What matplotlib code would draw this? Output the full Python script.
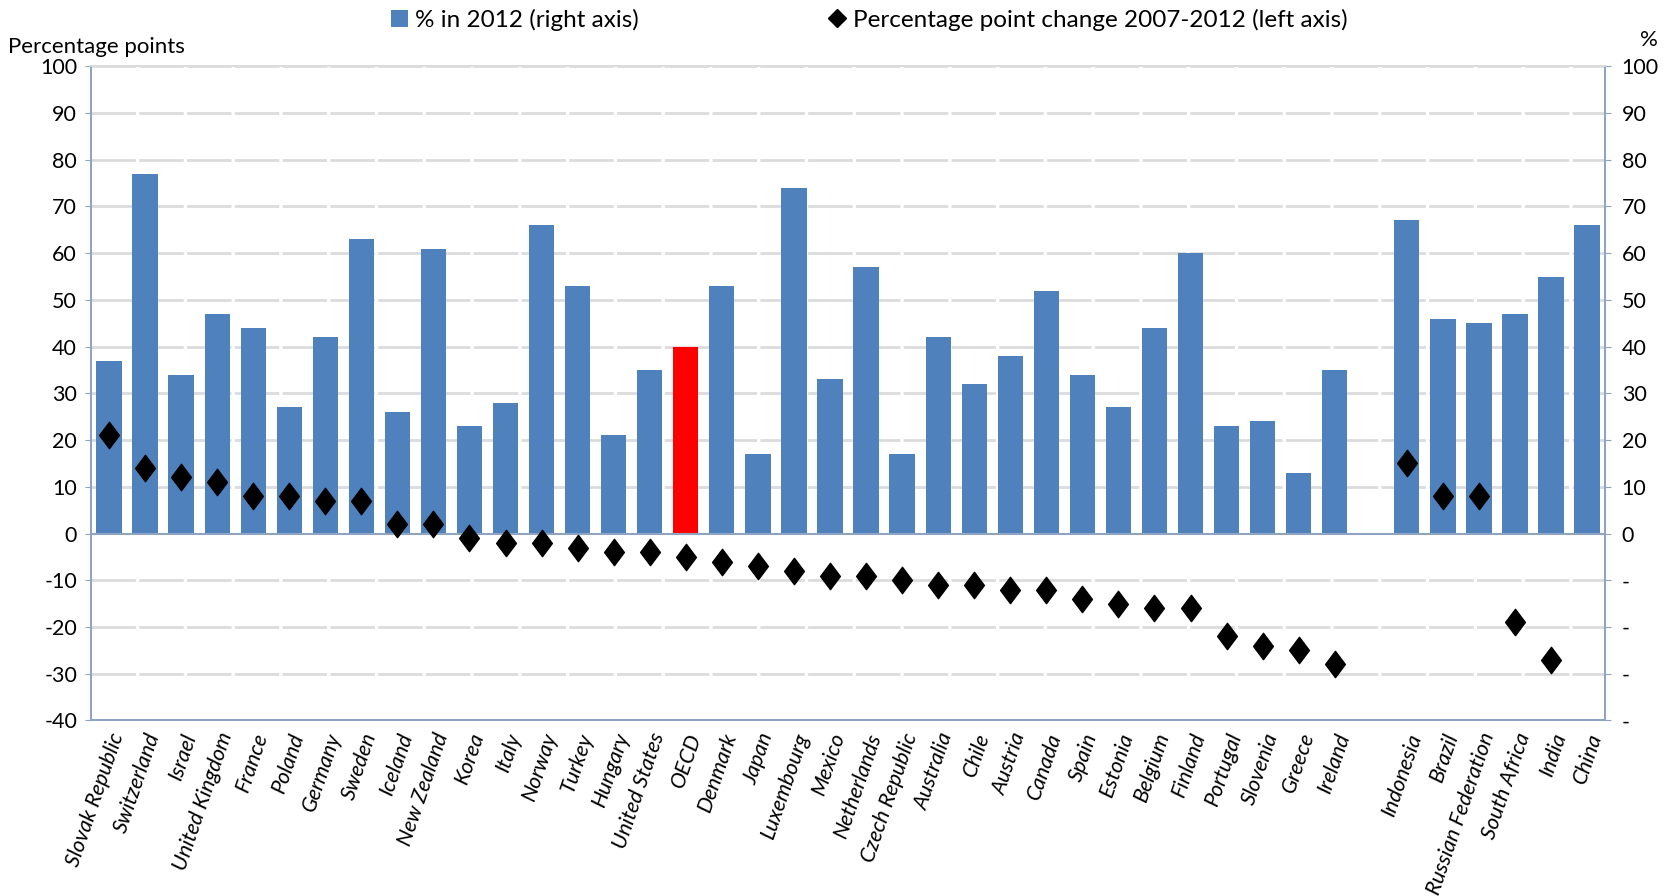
import numpy as np
import matplotlib
matplotlib.use("Agg")
from matplotlib import pyplot as plt
from matplotlib.path import Path
from matplotlib.lines import Line2D
from matplotlib.patches import Patch

plt.rcParams['font.family'] = ['Lato', 'DejaVu Sans']

# Data (empty slot = gap between OECD countries and partner economies)
countries = ["Slovak Republic", "Switzerland", "Israel", "United Kingdom", "France",
             "Poland", "Germany", "Sweden", "Iceland", "New Zealand", "Korea", "Italy",
             "Norway", "Turkey", "Hungary", "United States", "OECD", "Denmark", "Japan",
             "Luxembourg", "Mexico", "Netherlands", "Czech Republic", "Australia", "Chile",
             "Austria", "Canada", "Spain", "Estonia", "Belgium", "Finland", "Portugal",
             "Slovenia", "Greece", "Ireland", "",
             "Indonesia", "Brazil", "Russian Federation", "South Africa", "India", "China"]
pct_2012 = [37, 77, 34, 47, 44, 27, 42, 63, 26, 61, 23, 28, 66, 53, 21, 35, 40, 53, 17,
            74, 33, 57, 17, 42, 32, 38, 52, 34, 27, 44, 60, 23, 24, 13, 35, np.nan,
            67, 46, 45, 47, 55, 66]
change_07_12 = [21, 14, 12, 11, 8, 8, 7, 7, 2, 2, -1, -2, -2, -3, -4, -4, -5, -6, -7,
                -8, -9, -9, -10, -11, -11, -12, -12, -14, -15, -16, -16, -22, -24, -25, -28, np.nan,
                15, 8, 8, -19, -27, np.nan]

blue = "#4F81BD"
axis_col = "#8EA4C2"
grid_col = "#DCDCDC"

fig = plt.figure(figsize=(16.72, 8.96), dpi=100)
ax = fig.add_axes([0.0544, 0.196, 0.9056, 0.730])
ax2 = ax.twinx()

x = np.arange(len(countries))
colors = ["red" if c == "OECD" else blue for c in countries]

# bars on the right axis
ax2.bar(x, pct_2012, width=0.7, color=colors, edgecolor="none", zorder=2)

# diamonds on the left axis
diamond = Path([(0, 1), (0.75, 0), (0, -1), (-0.75, 0), (0, 1)],
               [Path.MOVETO, Path.LINETO, Path.LINETO, Path.LINETO, Path.CLOSEPOLY])
ax2.plot(x, change_07_12, linestyle="none", marker=diamond, markersize=19,
         color="black", zorder=4)

for a in (ax, ax2):
    a.set_ylim(-40, 100)
    a.set_xlim(-0.5, len(countries) - 0.5)
    a.set_yticks(np.arange(-40, 101, 10))

# gridlines
for v in np.arange(-30, 101, 10):
    if v != 0:
        ax.axhline(v, color=grid_col, linewidth=2.0, linestyle=(0, (16, 1.2)), zorder=0)
ax2.axhline(0, color=axis_col, linewidth=1.5, zorder=3)

ax.set_yticklabels([str(v) for v in np.arange(-40, 101, 10)])
ax2.set_yticklabels(["-" if v < 0 else str(v) for v in np.arange(-40, 101, 10)])

ax.set_xticks(x)
ax.set_xticklabels(countries, rotation=71, ha="right", rotation_mode="anchor",
                   fontsize=15.5, style="italic")
ax.tick_params(axis="x", length=0, pad=7)
ax.tick_params(axis="y", labelsize=15.5, length=4, color=axis_col, pad=6)
ax2.tick_params(axis="y", labelsize=15.5, length=4, color=axis_col, pad=8)

for a in (ax, ax2):
    for s in a.spines.values():
        s.set_color(axis_col)
        s.set_linewidth(1.3)
ax.spines["top"].set_color(grid_col)
ax2.spines["top"].set_color(grid_col)

fig.text(0.005, 0.948, "Percentage points", fontsize=16, ha="left", va="center")
fig.text(0.986, 0.955, "%", fontsize=16, ha="center", va="center")

handles = [Patch(facecolor=blue, edgecolor="none", label="% in 2012 (right axis)"),
           Line2D([], [], linestyle="none", marker="D", markersize=9, color="black",
                  label="Percentage point change 2007-2012 (left axis)")]
fig.legend(handles=handles, loc="center", bbox_to_anchor=(0.52, 0.978), ncol=2,
           frameon=False, fontsize=17.5, columnspacing=7.8, handlelength=0.7,
           handletextpad=0.3, handleheight=0.7)

plt.savefig("out.png", dpi=100)
